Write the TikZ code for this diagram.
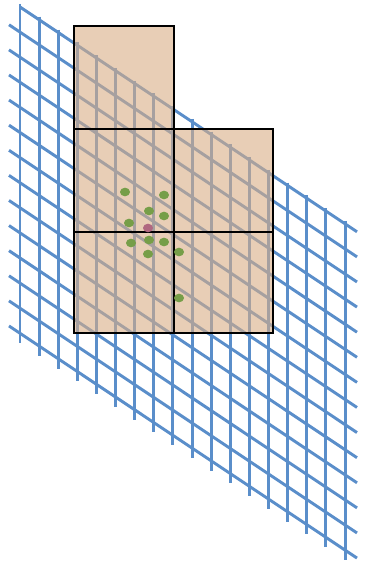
\documentclass[tikz,border=0pt]{standalone}
\usepackage{tikz}
\usetikzlibrary{calc}
\definecolor{meshBlue}{RGB}{90,142,202}
\definecolor{cellTan}{RGB}{217,173,133}
\definecolor{ptGreen}{RGB}{118,158,72}
\definecolor{ptPink}{RGB}{176,104,128}
\tikzset{
  meshline/.style={draw=meshBlue, line width=2.5pt},
  cell/.style={draw=black, fill=cellTan, fill opacity=0.6, line width=2pt},
  ptG/.style={fill=ptGreen},
  ptP/.style={fill=ptPink},
}

\begin{document}
\begin{tikzpicture}[x=0.03cm, y=-0.03cm]
    \useasboundingbox (0,0) rectangle (364,571);
    %% sheared mesh, vertical lines
    \foreach \i in {0,...,17}{
      \pgfmathsetmacro{\xx}{20+19.12*\i}
      \draw[meshline] (\xx,{4+0.667*(\xx-20)}) -- (\xx,{343+0.667*(\xx-20)});
    }
    %% sheared mesh, slanted lines
    \foreach \j in {0,...,13}{
      \pgfmathsetmacro{\yy}{7+25.1*\j}
      \pgfmathsetmacro{\xs}{ifthenelse(\j==0,20,9)}
      \draw[meshline] (\xs,{\yy+0.667*(\xs-20)}) -- (357,{\yy+0.667*337});
    }
    %% cells (semi transparent)
    \draw[cell] (74,26) rectangle (174,129);
    \draw[cell] (74,129) rectangle (174,232);
    \draw[cell] (174,129) rectangle (273,232);
    \draw[cell] (74,232) rectangle (174,333);
    \draw[cell] (174,232) rectangle (273,333);
    %% points
    \foreach \px/\py in {125/192,164/195,149/211,164/216,129/223,
                         131/243,149/240,164/242,148/254,179/252,179/298}{
      \fill[ptG] (\px,\py) ellipse (5 and 4.3);
    }
    \fill[ptP] (148,228) ellipse (5 and 4.3);
\end{tikzpicture}
\end{document}
